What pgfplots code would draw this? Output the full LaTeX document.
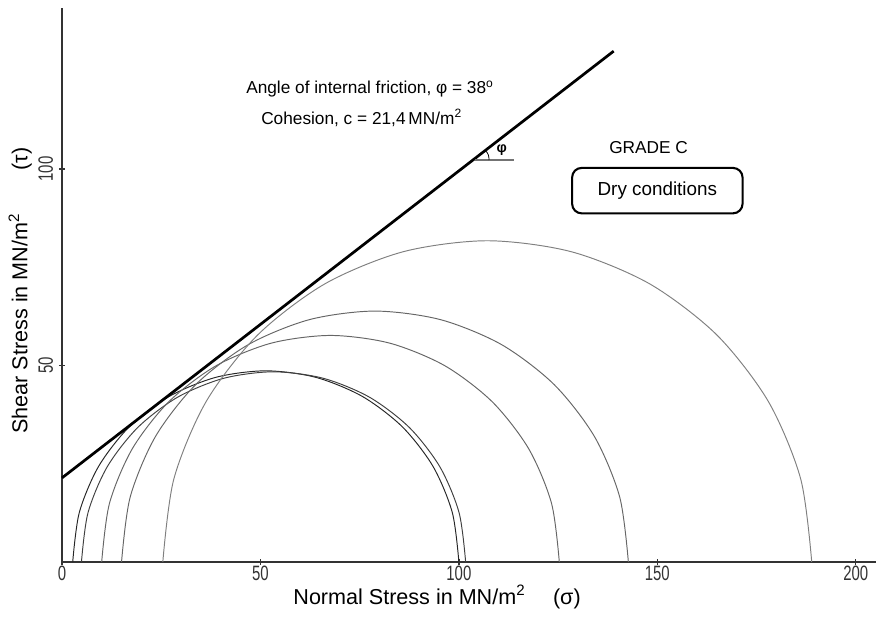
\documentclass[border=0pt]{standalone}
\usepackage{pgfplots}
\pgfplotsset{compat=1.18}
\usepackage{fontspec}
\setmainfont{Liberation Sans}
\newfontfamily\narrowfont[FakeStretch=0.72]{Liberation Sans}

\begin{document}
\begin{tikzpicture}
\begin{axis}[
    scale only axis,
    width=17.9cm,
    height=12.19cm,
    xmin=0, xmax=205,
    ymin=0, ymax=141,
    axis lines=left,
    axis line style={-, line width=0.9pt, black!80},
    xtick={0,50,100,150,200},
    ytick={50,100},
    major tick length=4pt,
    tick style={black!80, line width=0.8pt},
    tick label style={font=\narrowfont\fontsize{13}{13}\selectfont, black!80},
    /pgf/number format/assume math mode=true,
    xticklabel style={yshift=3pt},
    yticklabel style={rotate=90, anchor=south},
    xlabel={Normal Stress in MN/m\textsuperscript{2}\quad\ (σ)},
    ylabel={Shear Stress in MN/m\textsuperscript{2}\qquad (τ)},
    label style={font=\fontsize{13.5}{14}\selectfont},
    xlabel style={at={(axis description cs:0.461,0)}, anchor=center, yshift=-0.77cm},
    ylabel style={at={(axis description cs:0,0.49)}, anchor=center, yshift=0.92cm},
    clip=false,
]
% Mohr circles (sigma3 = 2.7, 4.9, 10, 15, 25.4; sigma1 = 100, 101.7, 125.3, 142.7, 188.9)
\addplot[black!85, line width=0.6pt, smooth] coordinates {
 (100.00,0) (98.34,12.59) (93.48,24.33) (85.75,34.40) (75.68,42.13) (63.94,46.99)
 (51.35,48.65) (38.76,46.99) (27.02,42.13) (16.95,34.40) (9.22,24.33) (4.36,12.59) (2.70,0)};
\addplot[black!75, line width=0.6pt, smooth] coordinates {
 (101.70,0) (100.05,12.53) (95.22,24.20) (87.52,34.22) (77.50,41.92) (65.83,46.75)
 (53.30,48.40) (40.77,46.75) (29.10,41.92) (19.08,34.22) (11.38,24.20) (6.55,12.53) (4.90,0)};
\addplot[black!60, line width=0.6pt, smooth] coordinates {
 (125.30,0) (123.34,14.92) (117.58,28.83) (108.41,40.76) (96.48,49.93) (82.57,55.69)
 (67.65,57.65) (52.73,55.69) (38.82,49.93) (26.89,40.76) (17.72,28.83) (11.96,14.92) (10.00,0)};
\addplot[black!60, line width=0.6pt, smooth] coordinates {
 (142.70,0) (140.52,16.52) (134.15,31.93) (124.00,45.15) (110.78,55.30) (95.37,61.67)
 (78.85,63.85) (62.33,61.67) (46.92,55.30) (33.70,45.15) (23.55,31.93) (17.18,16.52) (15.00,0)};
\addplot[black!50, line width=0.6pt, smooth] coordinates {
 (188.90,0) (186.11,21.16) (177.95,40.88) (164.96,57.81) (148.03,70.80) (128.31,78.96)
 (107.15,81.75) (85.99,78.96) (66.27,70.80) (49.34,57.81) (36.35,40.88) (28.19,21.16) (25.40,0)};
% failure envelope
\addplot[black, line width=1.7pt] coordinates {(0,21.4) (139,130)};
% angle marker
\addplot[black!55, line width=1.2pt] coordinates {(104,102.3) (114,102.3)};
\addplot[black, line width=0.5pt, smooth] coordinates {(107.6,102.3) (107.45,103.55) (106.9,104.5)};
\node[font=\fontsize{9}{9}\selectfont\bfseries] at (axis cs:110.8,104.9) {φ};

\node[font=\fontsize{10.8}{11}\selectfont] at (axis cs:77.6,120.3) {Angle of internal friction, φ = 38\textsuperscript{o}};
\node[font=\fontsize{10.8}{11}\selectfont] at (axis cs:75.5,113.0) {Cohesion, c = 21,4\,MN/m\textsuperscript{2}};
\node[font=\fontsize{10.8}{11}\selectfont] at (axis cs:147.8,105.5) {GRADE C};
\node[draw, line width=1.3pt, rounded corners=6pt, minimum width=3.75cm, minimum height=1cm,
      font=\fontsize{11.8}{12}\selectfont] at (axis cs:150,94.5) {Dry conditions};
\end{axis}
\pgfresetboundingbox
\path[use as bounding box] (-1.364cm,-1.254cm) rectangle (18.238cm,12.364cm);
\end{tikzpicture}
\end{document}
